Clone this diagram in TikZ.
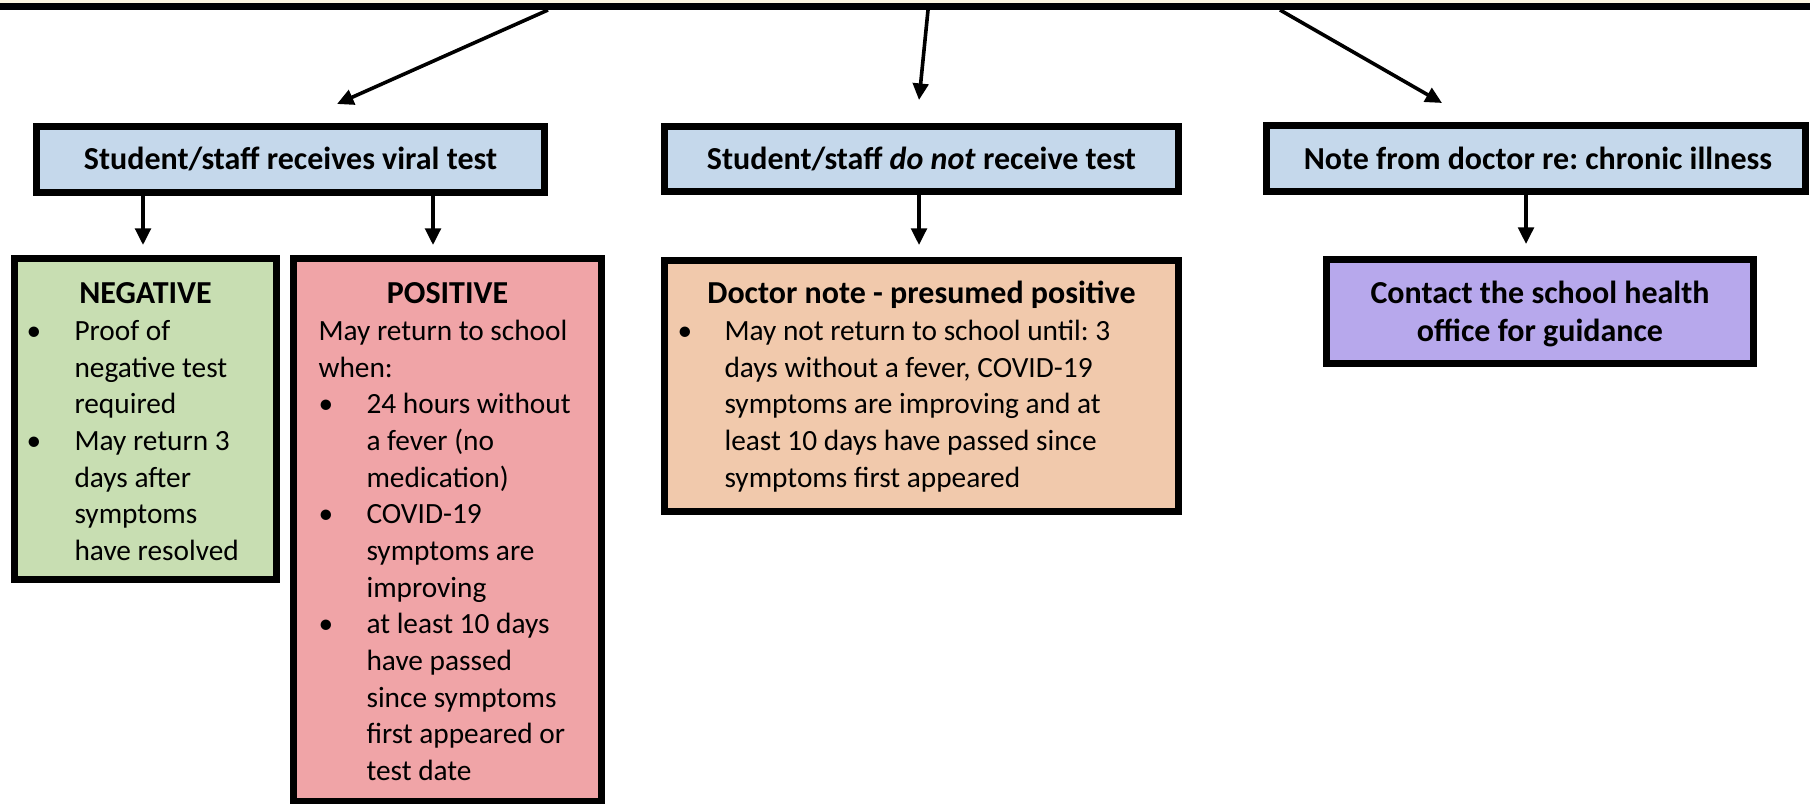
\documentclass[tikz,border=0pt]{standalone}
\usepackage{fontspec}
\setmainfont{Carlito}
\usetikzlibrary{arrows.meta}
\frenchspacing
\newlength{\pxu}\setlength{\pxu}{0.375pt}
\definecolor{creamc}{RGB}{252,245,222}
\definecolor{bluec}{RGB}{197,216,235}
\definecolor{greenc}{RGB}{200,222,178}
\definecolor{pinkc}{RGB}{240,164,167}
\definecolor{orangec}{RGB}{241,201,172}
\definecolor{purplec}{RGB}{183,168,236}
\newcommand{\bul}[1]{\makebox[#1\pxu][l]{\textbullet}}
\newcommand{\ind}[1]{\hspace*{#1\pxu}}
\tikzset{
  boxbase/.style={draw=black, line width=2.625pt, inner sep=0pt, rectangle},
  headbox/.style={boxbase, fill=bluec},
  arr/.style={-{Triangle[length=6.2pt,width=5.8pt]}, line width=1.35pt, draw=black},
  txt/.style={inner sep=0pt, font=\fontsize{11pt}{13.75pt}\selectfont\frenchspacing},
  ttl/.style={inner sep=0pt, font=\fontsize{12pt}{13.9pt}\selectfont\bfseries\frenchspacing, anchor=base},
  lst/.style={txt, anchor=base west},
}
\begin{document}
\begin{tikzpicture}[x=0.375pt,y=-0.375pt]
\useasboundingbox (0,0) rectangle (1810,804);
% top (cut) box
\node[boxbase, fill=creamc, line width=2.8pt, minimum width=712pt, minimum height=37.7pt] (top) at (905,-44) {};
% header boxes
\node[headbox, minimum width=190.5pt, minimum height=24.75pt] (b1) at (290.5,159.5) {};
\node[headbox, minimum width=192.75pt, minimum height=24.4pt] (b2) at (921.5,159) {};
\node[headbox, minimum width=202.1pt, minimum height=24.4pt] (b3) at (1535.5,158.5) {};
% result boxes
\node[boxbase, fill=greenc, minimum width=98.25pt, minimum height=120.4pt] (neg) at (145.5,419) {};
\node[boxbase, fill=pinkc, minimum width=115.5pt, minimum height=203.6pt] (pos) at (447.5,530) {};
\node[boxbase, fill=orangec, minimum width=192.75pt, minimum height=94.1pt] (doc) at (921.5,386) {};
\node[boxbase, fill=purplec, minimum width=160.1pt, minimum height=39pt] (con) at (1540,311.5) {};
% header texts
\node[ttl] (t1) at (290.5,169.5) {Student/staff receives viral test};
\node[ttl] (t2) at (921.5,169.5) {Student/staff \textit{do not} receive test};
\node[ttl] (t3) at (1538,169.5) {Note from doctor re: chronic illness};
% titles
\node[ttl] (negt) at (145.5,304) {NEGATIVE};
\node[ttl] (post) at (447.5,304) {POSITIVE};
\node[ttl] (doct) at (921.5,304) {Doctor note - presumed positive};
\node[ttl] (cont) at (1540,304) {\begin{tabular}[t]{@{}c@{}}Contact the school health\\office for guidance\end{tabular}};
% lists
\node[lst] (negl) at (26,340.5) {\begin{tabular}[t]{@{}l@{}}
\bul{48}Proof of\\
\ind{48}negative test\\
\ind{48}required\\
\bul{48}May return 3\\
\ind{48}days after\\
\ind{48}symptoms\\
\ind{48}have resolved
\end{tabular}};
\node[lst] (posl) at (318,340.5) {\begin{tabular}[t]{@{}l@{}}
May return to school\\
when:\\
\bul{48}24 hours without\\
\ind{48}a fever (no\\
\ind{48}medication)\\
\bul{48}COVID-19\\
\ind{48}symptoms are\\
\ind{48}improving\\
\bul{48}at least 10 days\\
\ind{48}have passed\\
\ind{48}since symptoms\\
\ind{48}first appeared or\\
\ind{48}test date
\end{tabular}};
\node[lst] (docl) at (677,340.5) {\begin{tabular}[t]{@{}l@{}}
\bul{47}May not return to school until: 3\\
\ind{47}days without a fever, COVID-19\\
\ind{47}symptoms are improving and at\\
\ind{47}least 10 days have passed since\\
\ind{47}symptoms first appeared
\end{tabular}};
% arrow coordinates
\coordinate (s1) at (548,0);
\coordinate (s2) at (928,0);
\coordinate (s3) at (1280,0);
\coordinate (e1) at (337,104);
\coordinate (e2) at (919,100);
\coordinate (e3) at (1442,103);
\coordinate (d1) at (143,245);
\coordinate (d2) at (433,245);
\coordinate (d3) at (919,245);
\coordinate (d4) at (1526,244);
% connectors
\draw[arr] (top.south -| s1) -- (e1);
\draw[arr] (top.south -| s2) -- (e2);
\draw[arr] (top.south -| s3) -- (e3);
\draw[arr] (b1.south -| d1) -- (d1);
\draw[arr] (b1.south -| d2) -- (d2);
\draw[arr] (b2.south -| d3) -- (d3);
\draw[arr] (b3.south -| d4) -- (d4);
\end{tikzpicture}
\end{document}
